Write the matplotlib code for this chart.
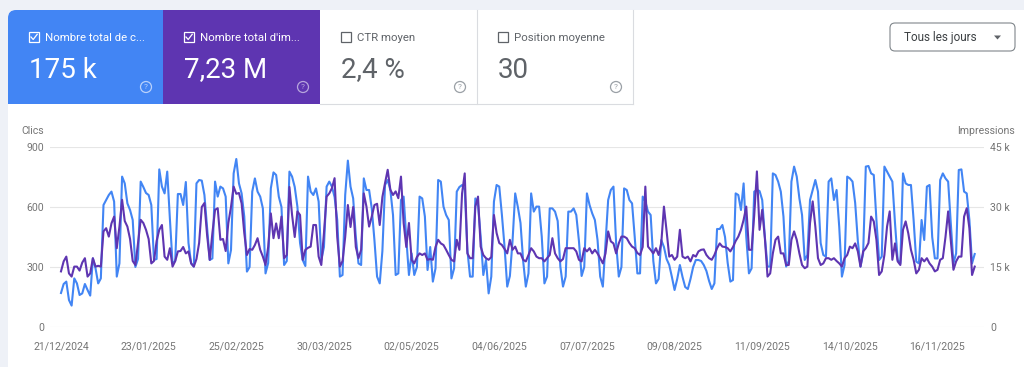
import matplotlib
matplotlib.use("Agg")
import matplotlib.pyplot as plt
from matplotlib.patches import Rectangle, FancyBboxPatch, Circle, Polygon
import pandas as pd

plt.rcParams['font.family'] = ['Roboto', 'DejaVu Sans']

start = "2024-12-21"
clics = [
    170, 215,
    227, 135, 107, 243, 218, 160, 168,
    215, 185, 157, 343, 293, 218, 243,
    610, 635, 660, 677, 627, 252, 318,
    752, 718, 618, 585, 535, 300, 340,
    727, 700, 670, 660, 610, 335, 340,
    788, 702, 668, 777, 540, 318, 330,
    665, 665, 610, 725, 420, 318, 302,
    718, 735, 732, 660, 500, 335, 343,
    727, 652, 702, 693, 652, 318, 385,
    768, 840, 718, 668, 552, 277, 300,
    677, 743, 677, 652, 593, 268, 320,
    693, 773, 760, 652, 600, 310, 330,
    777, 752, 700, 602, 420, 335, 305,
    752, 677, 660, 693, 627, 335, 400,
    702, 727, 702, 650, 535, 252, 260,
    660, 832, 702, 643, 450, 318, 310,
    743, 685, 685, 593, 435, 252, 218,
    380, 710, 735, 685, 560, 260, 268,
    635, 652, 443, 260, 368, 260, 300,
    652, 643, 552, 285, 400, 227, 293,
    735, 727, 602, 560, 535, 243, 293,
    677, 700, 710, 685, 385, 252, 252,
    643, 610, 452, 260, 335, 168, 252,
    627, 710, 702, 560, 400, 202, 255,
    430, 668, 600, 520, 330, 202, 268,
    668, 577, 602, 602, 452, 218, 252,
    593, 593, 577, 530, 302, 202, 252,
    577, 577, 593, 560, 430, 255, 300,
    668, 610, 568, 535, 435, 252, 202,
    420, 635, 685, 702, 420, 252, 300,
    693, 685, 635, 618, 450, 268, 268,
    652, 627, 577, 560, 330, 218, 240,
    435, 400, 340, 310, 250, 185, 240,
    310, 250, 200, 190, 240, 300, 335,
    335, 330, 310, 280, 230, 190, 218,
    490, 490, 510, 450, 320, 227, 235,
    668, 660, 585, 718, 450, 268, 293,
    677, 685, 680, 635, 450, 302, 302,
    768, 760, 727, 677, 552, 302, 330,
    727, 802, 752, 643, 560, 335, 360,
    635, 685, 735, 677, 420, 360, 352,
    727, 743, 635, 685, 500, 252, 310,
    752, 743, 727, 620, 430, 302, 368,
    802, 805, 768, 760, 535, 335, 352,
    802, 777, 752, 727, 518, 335, 318,
    768, 718, 710, 710, 535, 327, 318,
    535, 435, 702, 710, 450, 343, 343,
    735, 768, 743, 727, 518, 318, 368,
    785, 788, 677, 668, 535, 318, 365,
]
impressions_k = [
    13.9, 16.4,
    17.6, 13.4, 12.6, 15.1, 15.1, 14.1, 16.1,
    17.2, 12.6, 13.4, 17.2, 15.1, 15.3, 15.1,
    23.9, 24.7, 22.6, 25.9, 27.6, 19.7, 25.1,
    31.8, 26.5, 25.1, 22.0, 16.5, 15.5, 21.0,
    26.8, 26.0, 24.3, 22.0, 15.9, 16.5, 21.5,
    24.3, 25.5, 17.6, 16.8, 19.7, 15.1, 16.5,
    18.9, 19.0, 20.0, 18.4, 18.9, 15.9, 15.1,
    17.0, 21.0, 30.0, 31.0, 23.0, 16.8, 23.5,
    29.3, 29.7, 21.8, 22.0, 19.0, 26.0, 30.0,
    35.1, 33.3, 33.5, 30.9, 23.5, 18.0, 19.5,
    19.3, 20.5, 22.2, 19.3, 17.6, 15.5, 20.0,
    28.4, 22.2, 25.9, 22.2, 27.6, 17.2, 18.0,
    35.0, 28.0, 22.5, 28.9, 28.0, 16.8, 19.3,
    19.8, 20.1, 25.5, 25.5, 17.6, 15.5, 23.5,
    32.6, 33.4, 34.7, 37.2, 22.5, 15.1, 16.5,
    22.5, 30.5, 25.0, 30.0, 20.0, 17.2, 19.3,
    33.4, 30.1, 25.1, 27.6, 30.5, 30.8, 25.5,
    32.5, 36.0, 39.3, 34.3, 33.0, 33.9, 32.2,
    37.6, 26.0, 20.0, 26.0, 16.8, 15.9, 17.5,
    18.4, 18.0, 18.4, 16.8, 17.0, 16.8, 20.0,
    21.8, 20.9, 20.5, 19.3, 18.0, 16.8, 16.4,
    21.8, 19.3, 33.4, 38.4, 18.4, 17.2, 17.2,
    30.1, 32.6, 20.1, 18.0, 17.2, 16.8, 17.5,
    28.0, 23.5, 21.0, 20.5, 19.5, 18.4, 21.8,
    19.3, 20.1, 18.4, 18.4, 16.8, 16.4, 18.0,
    19.7, 18.9, 17.6, 17.2, 17.2, 16.4, 17.2,
    18.0, 22.2, 18.4, 17.2, 16.4, 17.0, 19.7,
    19.7, 19.7, 19.7, 18.9, 16.8, 16.4, 19.7,
    18.9, 19.7, 18.4, 19.3, 18.4, 17.2, 15.9,
    18.4, 23.9, 21.4, 20.9, 18.4, 20.9, 22.6,
    22.6, 22.2, 21.0, 20.1, 19.7, 18.5, 18.0,
    20.0, 35.1, 20.1, 19.3, 18.4, 19.7, 18.0,
    21.0, 30.1, 24.0, 17.6, 18.0, 16.8, 17.6,
    24.3, 17.6, 17.2, 17.6, 16.4, 18.0, 17.6,
    18.9, 19.3, 19.4, 18.0, 17.2, 16.8, 18.0,
    19.7, 20.9, 20.1, 20.0, 19.7, 18.9, 20.0,
    21.5, 22.6, 24.3, 26.8, 30.1, 19.3, 19.3,
    28.0, 38.9, 24.3, 29.3, 22.2, 12.6, 13.4,
    18.4, 21.8, 22.6, 18.4, 18.4, 15.5, 15.5,
    21.8, 23.9, 21.8, 18.4, 15.5, 14.7, 15.1,
    26.0, 31.4, 25.1, 17.2, 15.5, 15.9, 17.2,
    17.2, 16.8, 17.2, 16.5, 15.9, 15.1, 17.2,
    18.0, 20.1, 19.7, 20.9, 18.9, 15.1, 18.9,
    19.7, 21.0, 27.6, 26.4, 21.8, 13.0, 13.9,
    18.0, 25.1, 28.9, 16.8, 20.9, 16.4, 15.5,
    24.3, 26.4, 23.4, 19.3, 16.8, 13.4, 14.3,
    17.2, 16.4, 17.2, 15.9, 15.1, 13.9, 14.3,
    16.8, 17.2, 22.5, 28.9, 21.5, 14.3, 16.4,
    17.6, 17.6, 27.6, 29.7, 24.7, 13.0, 15.1,
]
tick_dates = ["2024-12-21", "2025-01-23", "2025-02-25", "2025-03-30", "2025-05-02",
              "2025-06-04", "2025-07-07", "2025-08-09", "2025-09-11", "2025-10-14",
              "2025-11-16"]
clics_ticks = [0, 300, 600, 900]
impr_ticks = [0, 15, 30, 45]
impr_labels = ["0", "15 k", "30 k", "45 k"]

card_titles = ["Nombre total de c...", "Nombre total d'im...", "CTR moyen", "Position moyenne"]
card_values = ["175 k", "7,23 M", "2,4 %", "30"]

BLUE = "#4285f4"
PURPLE = "#5e35b1"
GREY_TXT = "#757575"

dates = pd.date_range(start, periods=len(clics), freq="D")

fig = plt.figure(figsize=(10.24, 3.67), dpi=100)
fig.patch.set_facecolor("#eef1f7")

# fond en pixels pour l'en-tête
bg = fig.add_axes([0, 0, 1, 1])
bg.set_xlim(0, 1024)
bg.set_ylim(367, 0)
bg.axis("off")
bg.add_patch(FancyBboxPatch((8, 10), 1100, 400, boxstyle="round,pad=0,rounding_size=8",
                            fc="white", ec="none"))

# cartes
edges = [8, 163, 320, 477, 633]
fills = [BLUE, PURPLE, None, None]
for i in range(4):
    x0, x1 = edges[i], edges[i + 1]
    if fills[i] is not None:
        if i == 0:
            bg.add_patch(FancyBboxPatch((x0, 10), 40, 40, boxstyle="round,pad=0,rounding_size=8",
                                        fc=fills[i], ec="none"))
            bg.add_patch(Rectangle((x0, 18), x1 - x0, 86, fc=fills[i], ec="none"))
            bg.add_patch(Rectangle((x0 + 8, 10), x1 - x0 - 8, 94, fc=fills[i], ec="none"))
        else:
            bg.add_patch(Rectangle((x0, 10), x1 - x0, 94, fc=fills[i], ec="none"))
        col, icol = "white", ("#b9d1fb" if i == 0 else "#b7a6dd")
    else:
        col, icol = "#5f6368", "#9aa0a6"
    cx = x0 + 26
    bg.add_patch(Rectangle((cx - 5, 32), 10, 10, fill=False, ec=col, lw=0.9))
    if fills[i] is not None:
        bg.plot([cx - 3, cx - 0.8, cx + 3.2], [37, 39.5, 34.3], color=col, lw=0.9)
    bg.text(cx + 11, 40.8, card_titles[i], fontsize=8.2, color=col, va="baseline")
    bg.text(cx - 5, 77.5, card_values[i], fontsize=20, color=col, va="baseline")
    hx = x1 - 17
    bg.add_patch(Circle((hx, 87), 5.5, fill=False, ec=icol, lw=0.9))
    bg.text(hx, 87.3, "?", fontsize=6, color=icol, ha="center", va="center")

bg.plot([320, 633], [104, 104], color="#dadce0", lw=0.8)
bg.plot([477, 477], [10, 104], color="#dadce0", lw=0.8)
bg.plot([633, 633], [10, 104], color="#dadce0", lw=0.8)

# sélecteur
bg.add_patch(FancyBboxPatch((890, 23), 125, 28, boxstyle="round,pad=0,rounding_size=5",
                            fc="white", ec="#80868b", lw=0.8))
bg.text(904, 40.5, "Tous les jours", fontsize=8.5, color="#3c4043", va="baseline")
bg.add_patch(Polygon([(994, 35.5), (1001, 35.5), (997.5, 39.5)], closed=True,
                     fc="#5f6368", ec="none"))

bg.text(44, 134.5, "Clics", fontsize=7.6, color=GREY_TXT, ha="right", va="baseline")
bg.text(1015, 134.5, "Impressions", fontsize=7.6, color=GREY_TXT, ha="right", va="baseline")

# graphique
ax = fig.add_axes([50 / 1024, 40 / 367, 934 / 1024, 180 / 367])
ax.patch.set_visible(False)
ax2 = ax.twinx()

ax.plot(dates, clics, color=BLUE, lw=1.5)
ax2.plot(dates, impressions_k, color=PURPLE, lw=1.5)

ax.set_ylim(0, 900)
ax2.set_ylim(0, 45)
ax.set_yticks(clics_ticks)
ax2.set_yticks(impr_ticks)
ax2.set_yticklabels(impr_labels)
ax.set_xlim(dates[0] - pd.Timedelta(days=4.14), dates[-1] + pd.Timedelta(days=3.5))
ticks = pd.to_datetime(tick_dates)
ax.set_xticks(ticks)
ax.set_xticklabels([t.strftime("%d/%m/%Y") for t in ticks])
ax.grid(axis="y", color="#e6e6e6", lw=0.8)
ax.set_axisbelow(True)

for a in (ax, ax2):
    for s in a.spines.values():
        s.set_visible(False)
ax.tick_params(axis="y", length=0, pad=4.1, labelsize=7.6, labelcolor=GREY_TXT)
ax2.tick_params(axis="y", length=0, pad=4.3, labelsize=7.6, labelcolor=GREY_TXT)
ax.tick_params(axis="x", length=0, pad=10.5, labelsize=7.6, labelcolor=GREY_TXT)

fig.savefig("out.png", dpi=100, facecolor=fig.get_facecolor())
